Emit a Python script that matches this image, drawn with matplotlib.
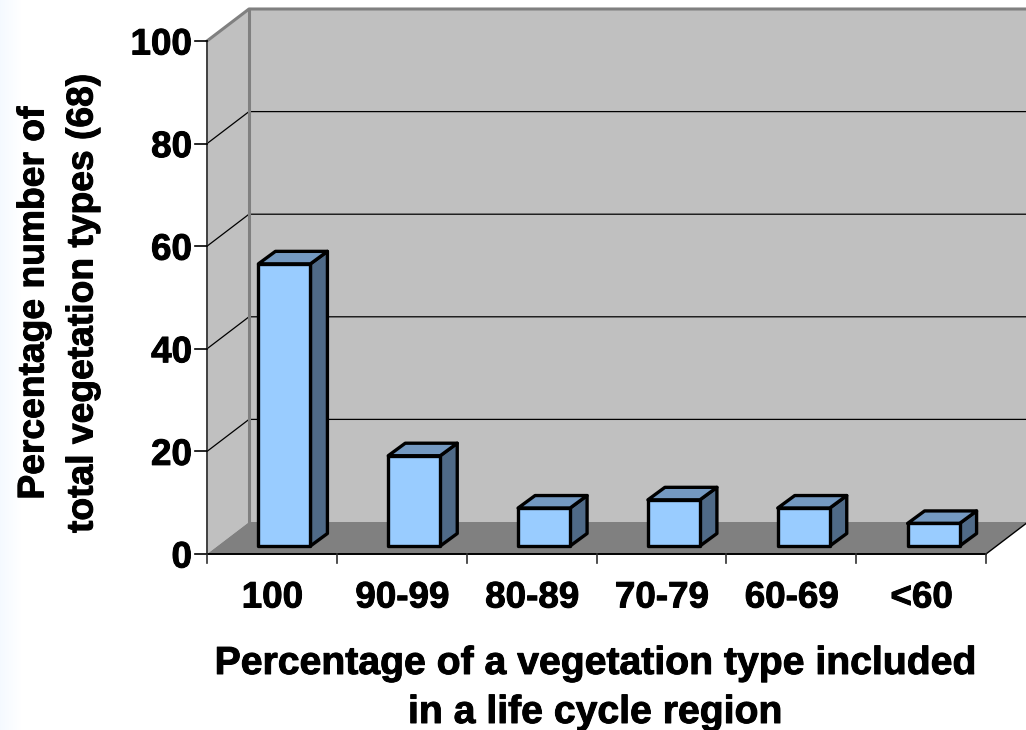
import numpy as np
import matplotlib
matplotlib.use("Agg")
import matplotlib.pyplot as plt
import matplotlib.patheffects as pe
from matplotlib.patches import Polygon

categories = ["100", "90-99", "80-89", "70-79", "60-69", "<60"]
values = [55, 17.6, 7.4, 9, 7.4, 4.4]
y_ticks = [0, 20, 40, 60, 80, 100]
x_title = "Percentage of a vegetation type included\nin a life cycle region"
y_title = "Percentage number of\ntotal vegetation types (68)"

W, H = 1026, 730
plt.rcParams['font.family'] = ['Liberation Sans', 'DejaVu Sans']
plt.rcParams['font.weight'] = 'bold'
fig = plt.figure(figsize=(W/100, H/100), dpi=100, facecolor='white')
heavy = [pe.withStroke(linewidth=0.7, foreground='black')]

# faint slide background on the left edge
bg = fig.add_axes([0, 0, 0.02, 1], zorder=-1)
bg.imshow(np.linspace(0, 1, 64)[None, :, None] * np.array([[[0.04, 0.02, 0.0]]]) + np.array([[[0.96, 0.98, 1.0]]]),
          aspect='auto')
bg.axis('off')

# front plane of the plot box in pixels: x 207..986, y 41..554
ax = fig.add_axes([207/W, 1-554/H, (986-207)/W, (554-41)/H])
ax.set_xlim(0, 6)
ax.set_ylim(0, 100)
ax.axis('off')
ux = (986-207)/6
uy = (554-41)/100
dx, dy = 42/ux, 32/uy      # box depth in data units
bdx, bdy = 17/ux, 12.5/uy  # bar depth
inset_x, inset_y = 12.5/ux, 8/uy
bw = 52/ux

def poly(pts, fc, ec='none', lw=0, z=1):
    ax.add_patch(Polygon(pts, closed=True, facecolor=fc, edgecolor=ec, linewidth=lw,
                         zorder=z, clip_on=False, joinstyle='round'))

# walls and floor
xr = 7
poly([(dx, dy), (xr, dy), (xr, 100+dy), (dx, 100+dy)], '#c0c0c0', z=1)
poly([(0, 0), (dx, dy), (dx, 100+dy), (0, 100)], '#c0c0c0', z=1)
poly([(0, 0), (6, 0), (6+dx, dy), (xr, dy), (dx, dy)], '#808080', z=1)

for t in y_ticks[1:-1]:
    ax.plot([0, dx, xr], [t, t+dy, t+dy], color='black', lw=0.9, zorder=2, clip_on=False)
# grey frame
ax.plot([0, dx, xr], [100, 100+dy, 100+dy], color='#808080', lw=2.2, zorder=3, clip_on=False)
ax.plot([dx, dx], [dy, 100+dy], color='#808080', lw=2.2, zorder=3, clip_on=False)
ax.plot([6, 6+dx], [0, dy], color='black', lw=1.0, zorder=2, clip_on=False)

# axis lines and ticks
ax.plot([0, 0], [0, 100], color='#404040', lw=1.4, zorder=4, clip_on=False)
ax.plot([0, 6], [0, 0], color='black', lw=1.4, zorder=4, clip_on=False)
for t in y_ticks:
    ax.plot([-12/ux, 0], [t, t], color='black', lw=1.2, zorder=4, clip_on=False)
    ax.text(-15/ux, t, str(t), ha='right', va='center_baseline', fontsize=26.5,
            color='black', path_effects=heavy)
for i in range(7):
    ax.plot([i, i], [0, -9/uy], color='#303030', lw=1.2, zorder=4, clip_on=False)

# bars
for i, (c, v) in enumerate(zip(categories, values)):
    x0 = i + 0.5 + inset_x - bw/2
    x1 = x0 + bw
    y0, y1 = inset_y, inset_y + v
    ek = dict(ec='black', lw=2.4, z=6)
    poly([(x1, y0), (x1+bdx, y0+bdy), (x1+bdx, y1+bdy), (x1, y1)], '#4f6a87', **ek)
    poly([(x0, y1), (x1, y1), (x1+bdx, y1+bdy), (x0+bdx, y1+bdy)], '#7499c1', **ek)
    poly([(x0, y0), (x1, y0), (x1, y1), (x0, y1)], '#99ccff', **ek)
    ax.text(i + 0.5 + 0.004, -40/uy, c, ha='center', va='center_baseline', fontsize=26.5,
            color='black', path_effects=heavy)

l1, l2 = x_title.split("\n")
fig.text(595/W, 1-664/H, l1, ha='center', va='center', fontsize=28.2, color='black', path_effects=heavy)
fig.text(595/W, 1-713/H, l2, ha='center', va='center', fontsize=28.2, color='black', path_effects=heavy)
l1, l2 = y_title.split("\n")
fig.text(34/W, 1-303/H, l1, rotation=90, ha='center', va='center', fontsize=26.8, color='black', path_effects=heavy)
fig.text(83/W, 1-303/H, l2, rotation=90, ha='center', va='center', fontsize=26.8, color='black', path_effects=heavy)

fig.savefig("out.png", dpi=100)
